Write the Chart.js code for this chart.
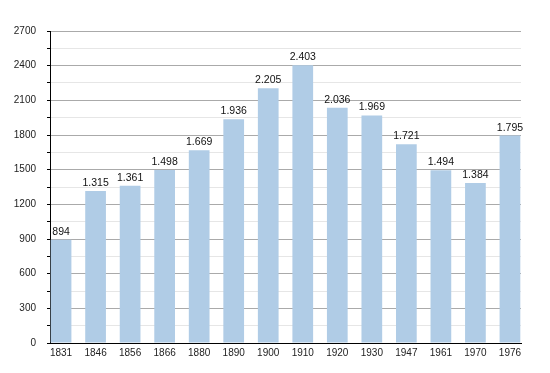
<!DOCTYPE html>
<html>
<head>
<meta charset="utf-8">
<script src="https://cdn.jsdelivr.net/npm/chart.js@4/dist/chart.umd.min.js"></script>
<style>
  html, body { margin: 0; padding: 0; background: #fff; }
  #wrap { width: 550px; height: 373px; }
</style>
</head>
<body>
<div id="wrap"><canvas id="chart" width="550" height="373"></canvas></div>
<script>
// census years and population
const years = ["1831", "1846", "1856", "1866", "1880", "1890", "1900", "1910", "1920", "1930", "1947", "1961", "1970", "1976"];
const population = [894, 1315, 1361, 1498, 1669, 1936, 2205, 2403, 2036, 1969, 1721, 1494, 1384, 1795];
const yTicks = [0, 300, 600, 900, 1200, 1500, 1800, 2100, 2400, 2700];

const FONT = "'Liberation Sans', Arial, Helvetica, sans-serif";

// thousands separator with a dot, like the source
function fmt(v) {
  return v >= 1000 ? Math.floor(v / 1000) + "." + String(v % 1000).padStart(3, "0") : String(v);
}

const valueLabels = {
  id: "valueLabels",
  afterDatasetsDraw(chart) {
    const ctx = chart.ctx;
    const meta = chart.getDatasetMeta(0);
    ctx.save();
    ctx.font = "10.5px " + FONT;
    ctx.fillStyle = "#111";
    ctx.textAlign = "center";
    ctx.textBaseline = "alphabetic";
    meta.data.forEach((bar, i) => {
      ctx.fillText(fmt(population[i]), bar.x, bar.y - 5);
    });
    ctx.restore();
  },
};

new Chart(document.getElementById("chart"), {
  type: "bar",
  data: {
    datasets: [
      {
        data: population.map((v, i) => ({ x: i, y: v })),
        backgroundColor: "rgb(176, 204, 230)",
        borderWidth: 0,
        barPercentage: 0.6,
        categoryPercentage: 1,
      },
    ],
  },
  options: {
    responsive: false,
    animation: false,
    layout: { padding: { top: 31, right: 29, left: 0, bottom: 0 } },
    plugins: {
      legend: { display: false },
      tooltip: { enabled: false },
    },
    scales: {
      x: {
        type: "linear",
        offset: false,
        min: -0.32,
        max: 13.32,
        afterBuildTicks: (scale) => {
          scale.ticks = years.map((_, i) => ({ value: i }));
        },
        afterFit: (scale) => {
          scale.height = 30;
        },
        grid: { display: false, drawTicks: false },
        border: { display: true, color: "#000", width: 1 },
        ticks: {
          autoSkip: false,
          maxRotation: 0,
          padding: 4,
          color: "#222",
          font: { size: 10, family: FONT },
          callback: (v) => years[v],
        },
      },
      y: {
        min: 0,
        max: 2700,
        afterBuildTicks: (scale) => {
          const t = [];
          for (let v = 0; v <= 2700; v += 150) t.push({ value: v });
          scale.ticks = t;
        },
        afterFit: (scale) => {
          scale.width = 50;
        },
        grid: {
          color: (c) => {
            if (!c.tick) return "#e6e6e6";
            if (c.tick.value === 0) return "#000";
            return c.tick.value % 300 === 0 ? "#aaaaaa" : "#e6e6e6";
          },
          tickColor: "#000",
          tickLength: 3,
        },
        border: { color: "#000", width: 1 },
        ticks: {
          padding: 11,
          color: "#222",
          font: { size: 10, family: FONT },
          callback: (v) => (yTicks.includes(v) ? String(v) : ""),
        },
      },
    },
  },
  plugins: [valueLabels],
});
</script>
</body>
</html>
